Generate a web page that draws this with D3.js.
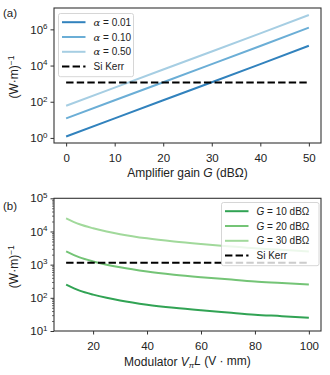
<!DOCTYPE html>
<html>
<head>
<meta charset="utf-8">
<script src="https://cdn.jsdelivr.net/npm/d3@7"></script>
<style>
  body { margin: 0; background: #fff; }
  svg { font-family: "Liberation Sans", Arial, sans-serif; }
  .axis path, .axis line { stroke: #333; }
  .axis text { font-size: 11.5px; fill: #222; }
</style>
</head>
<body>
<script>
// panel (a): amplifier gain sweep
let gainDb = [0, 10, 20, 30, 40, 50]
let alpha001 = [1.2, 12, 120, 1.2e3, 1.2e4, 1.25e5]
let alpha010 = [12, 120, 1.2e3, 1.2e4, 1.2e5, 1.25e6]
let alpha050 = [60, 600, 6e3, 6e4, 6e5, 6.2e6]
let alphaLabels = ['0.01', '0.10', '0.50']

// panel (b): modulator V_pi L sweep
let vpiL = [10, 15, 20, 25, 30, 40, 50, 60, 70, 80, 90, 100]
let g10 = [250, 165, 125, 100, 83, 62, 50, 42, 36, 31, 28, 25]
let g20 = [2500, 1650, 1250, 1000, 830, 620, 500, 420, 360, 310, 280, 250]
let g30 = [25000, 16500, 12500, 10000, 8300, 6200, 5000, 4200, 3600, 3100, 2800, 2500]
let gainLabels = ['10', '20', '30']

let siKerr = 1150

let blues = ['#3182bd', '#6baed6', '#a6cee3']
let greens = ['#31a354', '#74c476', '#a1d99b']

let width = 330
let height = 375
let left = 54, right = 321

let svg = d3.select('body').append('svg')
    .attr('width', width)
    .attr('height', height)

function supLabel(sel, base) {
    sel.each(function (d) {
        let t = d3.select(this).text(null)
        t.append('tspan').text(base)
        t.append('tspan').attr('dy', '-0.55em').attr('font-size', '8px').text(Math.round(Math.log10(d)))
    })
}

function yLabel(g, cy) {
    let t = g.append('text')
        .attr('transform', 'translate(18,' + cy + ') rotate(-90)')
        .attr('text-anchor', 'middle')
        .attr('font-size', '12px')
        .attr('fill', '#222')
    t.append('tspan').text('(W·m)')
    t.append('tspan').attr('dy', '-0.5em').attr('font-size', '8.5px').text('−1')
}

function frame(g, top, bottom) {
    g.append('rect')
        .attr('x', left).attr('y', top)
        .attr('width', right - left).attr('height', bottom - top)
        .attr('fill', 'none').attr('stroke', '#333').attr('stroke-width', 1.1)
}

function legend(g, x, y, w, rows) {
    let h = rows.length * 14.8 + 4
    g.append('rect')
        .attr('x', x).attr('y', y).attr('width', w).attr('height', h)
        .attr('rx', 2)
        .attr('fill', 'white').attr('fill-opacity', 0.8)
        .attr('stroke', '#ccc').attr('stroke-width', 0.8)
    rows.forEach((r, i) => {
        let yy = y + 8.7 + i * 14.8
        g.append('line')
            .attr('x1', x + 3.5).attr('x2', x + 27)
            .attr('y1', yy).attr('y2', yy)
            .attr('stroke', r.color).attr('stroke-width', 2)
            .attr('stroke-dasharray', r.dash ? '7.4,3.2' : null)
        let t = g.append('text')
            .attr('x', x + 35).attr('y', yy + 3.6)
            .attr('font-size', '10px').attr('fill', '#222')
        r.parts.forEach(p => {
            t.append('tspan')
                .attr('font-style', p.italic ? 'italic' : null)
                .attr('font-family', p.serif ? '"DejaVu Serif", serif' : null)
                .text(p.s)
        })
    })
}

// ---------- panel (a)
let topA = 8, botA = 143
let xA = d3.scaleLinear().domain([-2.5, 52.5]).range([left, right])
let yA = d3.scaleLog().domain([10 ** -0.28, 10 ** 7.18]).range([botA, topA])

let gA = svg.append('g')

gA.append('g').attr('class', 'axis')
    .attr('transform', 'translate(0,' + botA + ')')
    .call(d3.axisBottom(xA).tickValues([0, 10, 20, 30, 40, 50]).tickSize(3.5).tickPadding(7).tickFormat(d3.format('d')))
    .call(g => g.select('.domain').remove())

gA.append('g').attr('class', 'axis')
    .attr('transform', 'translate(' + left + ',0)')
    .call(d3.axisLeft(yA).tickValues([1, 1e2, 1e4, 1e6]).tickSize(3.5).tickPadding(3))
    .call(g => g.select('.domain').remove())
    .call(g => supLabel(g.selectAll('.tick text'), '10'))

let lineA = d3.line().x(d => xA(d[0])).y(d => yA(d[1]))

;[alpha001, alpha010, alpha050].forEach((s, i) => {
    gA.append('path')
        .datum(gainDb.map((g, j) => [g, s[j]]))
        .attr('d', lineA)
        .attr('fill', 'none')
        .attr('stroke', blues[i])
        .attr('stroke-width', 2)
})

gA.append('path')
    .datum([[gainDb[0], siKerr], [gainDb[gainDb.length - 1], siKerr]])
    .attr('d', lineA)
    .attr('fill', 'none').attr('stroke', '#000')
    .attr('stroke-width', 2).attr('stroke-dasharray', '7.4,3.2')

frame(gA, topA, botA)

legend(gA, 58.5, 13.5, 75, alphaLabels.map((a, i) => ({
    color: blues[i], parts: [{ s: 'α', italic: true, serif: true }, { s: ' = ' + a }]
})).concat([{ color: '#000', dash: true, parts: [{ s: 'Si Kerr' }] }]))

gA.append('text').attr('x', 3).attr('y', 17)
    .attr('font-size', '11.5px').attr('fill', '#222').text('(a)')

yLabel(gA, 77)

let xlabA = gA.append('text')
    .attr('x', (left + right) / 2).attr('y', 176.5)
    .attr('text-anchor', 'middle').attr('font-size', '12px').attr('fill', '#222')
xlabA.append('tspan').text('Amplifier gain ')
xlabA.append('tspan').attr('font-style', 'italic').text('G')
xlabA.append('tspan').text(' (dBΩ)')

// ---------- panel (b)
let topB = 198.3, botB = 331
let xB = d3.scaleLinear().domain([5.5, 104.5]).range([left, right])
let yB = d3.scaleLog().domain([10, 1e5]).range([botB, topB])

let gB = svg.append('g')

gB.append('g').attr('class', 'axis')
    .attr('transform', 'translate(0,' + botB + ')')
    .call(d3.axisBottom(xB).tickValues([20, 40, 60, 80, 100]).tickSize(3.5).tickPadding(7).tickFormat(d3.format('d')))
    .call(g => g.select('.domain').remove())

let minor = []
for (let e = 1; e < 5; e++) for (let m = 2; m < 10; m++) minor.push(m * 10 ** e)

gB.append('g').attr('class', 'axis')
    .attr('transform', 'translate(' + left + ',0)')
    .call(d3.axisLeft(yB).tickValues(minor).tickSize(2).tickFormat(''))
    .call(g => g.select('.domain').remove())
    .call(g => g.selectAll('line').attr('stroke-width', 0.7))

gB.append('g').attr('class', 'axis')
    .attr('transform', 'translate(' + left + ',0)')
    .call(d3.axisLeft(yB).tickValues([10, 1e2, 1e3, 1e4, 1e5]).tickSize(3.5).tickPadding(3))
    .call(g => g.select('.domain').remove())
    .call(g => supLabel(g.selectAll('.tick text'), '10'))

let lineB = d3.line().x(d => xB(d[0])).y(d => yB(d[1])).curve(d3.curveMonotoneX)

;[g10, g20, g30].forEach((s, i) => {
    gB.append('path')
        .datum(vpiL.map((v, j) => [v, s[j]]))
        .attr('d', lineB)
        .attr('fill', 'none')
        .attr('stroke', greens[i])
        .attr('stroke-width', 2)
})

gB.append('path')
    .datum([[vpiL[0], siKerr], [vpiL[vpiL.length - 1], siKerr]])
    .attr('d', lineB)
    .attr('fill', 'none').attr('stroke', '#000')
    .attr('stroke-width', 2).attr('stroke-dasharray', '7.4,3.2')

frame(gB, topB, botB)

legend(gB, 221.5, 202.5, 97.5, gainLabels.map((g, i) => ({
    color: greens[i], parts: [{ s: 'G', italic: true }, { s: ' = ' + g + ' dBΩ' }]
})).concat([{ color: '#000', dash: true, parts: [{ s: 'Si Kerr' }] }]))

gB.append('text').attr('x', 3).attr('y', 209.5)
    .attr('font-size', '11.5px').attr('fill', '#222').text('(b)')

yLabel(gB, (topB + botB) / 2 + 2)

let xlabB = gB.append('text')
    .attr('x', (left + right) / 2).attr('y', 366)
    .attr('text-anchor', 'middle').attr('font-size', '12px').attr('fill', '#222')
xlabB.append('tspan').text('Modulator ')
xlabB.append('tspan').attr('font-style', 'italic').text('V')
xlabB.append('tspan').attr('font-style', 'italic').attr('font-size', '8px').attr('dy', '0.25em').text('π')
xlabB.append('tspan').attr('font-style', 'italic').attr('dy', '-0.25em').text('L')
xlabB.append('tspan').text(' (V · mm)')
</script>
</body>
</html>
